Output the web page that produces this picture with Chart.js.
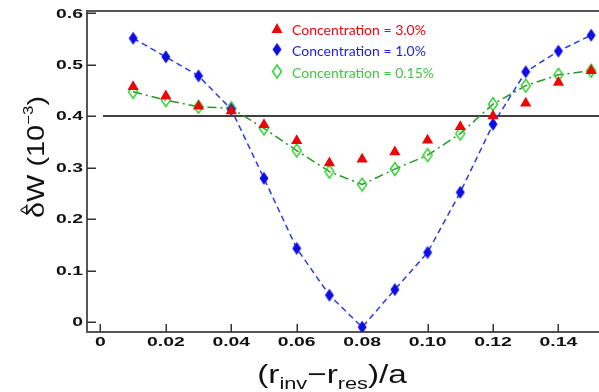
<!DOCTYPE html>
<html>
<head>
<meta charset="utf-8">
<script src="https://cdn.jsdelivr.net/npm/chart.js@4.4.1/dist/chart.umd.min.js"></script>
<style>
  html, body { margin: 0; padding: 0; background: #fff; }
  #myChart { display: block; }
</style>
</head>
<body>
<canvas id="myChart" width="599" height="392"></canvas>
<script>
// values
const xVals = [0.01, 0.02, 0.03, 0.04, 0.05, 0.06, 0.07, 0.08, 0.09, 0.10, 0.11, 0.12, 0.13, 0.14, 0.15]
const conc30 = [0.457, 0.439, 0.419, 0.410, 0.383, 0.352, 0.309, 0.316, 0.330, 0.353, 0.379, 0.400, 0.425, 0.465, 0.488]
const conc10 = [0.551, 0.515, 0.478, 0.413, 0.279, 0.143, 0.052, -0.010, 0.063, 0.135, 0.252, 0.384, 0.486, 0.526, 0.557]
const conc015 = [0.447, 0.431, 0.418, 0.415, 0.376, 0.333, 0.292, 0.267, 0.297, 0.324, 0.366, 0.423, 0.459, 0.480, 0.488]
const refLevel = 0.4
const refLineX = [0.0008, 0.16]

const xTicks = [0, 0.02, 0.04, 0.06, 0.08, 0.10, 0.12, 0.14]
const xTickLabels = ['0', '0.02', '0.04', '0.06', '0.08', '0.10', '0.12', '0.14']
const yTicks = [0, 0.1, 0.2, 0.3, 0.4, 0.5, 0.6]
const yTickLabels = ['0', '0.1', '0.2', '0.3', '0.4', '0.5', '0.6']

const legendLabels = ['Concentration = 3.0%', 'Concentration = 1.0%', 'Concentration = 0.15%']

const RED = 'rgb(236,6,6)'
const BLUE = 'rgb(14,14,226)'
const GREEN = 'rgb(46,206,46)'
const GREEN_LINE = 'rgb(40,150,40)'
const BLUE_LINE = 'rgb(40,60,225)'

const pts = (ys) => xVals.map((x, i) => ({ x: x, y: ys[i] }))

// elongated diamond markers
const diamond = (w, h, fill, stroke) => {
    const c = document.createElement('canvas')
    c.width = w + 3
    c.height = h + 3
    const g = c.getContext('2d')
    const cx = c.width / 2, cy = c.height / 2
    g.beginPath()
    g.moveTo(cx, cy - h / 2)
    g.lineTo(cx + w / 2, cy)
    g.lineTo(cx, cy + h / 2)
    g.lineTo(cx - w / 2, cy)
    g.closePath()
    if (fill) { g.fillStyle = fill; g.fill() }
    if (stroke) { g.strokeStyle = stroke; g.lineWidth = 1.5; g.stroke() }
    return c
}
const blueDiamond = diamond(9, 13, BLUE, null)
const greenDiamond = diamond(9, 13, null, GREEN)

const stretchText = (ctx, text, x, y, sx, align) => {
    ctx.save()
    ctx.translate(x, y)
    ctx.scale(sx, 1)
    ctx.textAlign = align
    ctx.fillText(text, 0, 0)
    ctx.restore()
}

const framePlugin = {
    id: 'frame',
    beforeDatasetsDraw(chart) {
        const ctx = chart.ctx
        const a = chart.chartArea
        const xs = chart.scales.x, ys = chart.scales.y
        ctx.save()
        ctx.strokeStyle = '#555'
        ctx.lineWidth = 2
        ctx.beginPath()
        ctx.moveTo(599, a.top)
        ctx.lineTo(a.left, a.top)
        ctx.lineTo(a.left, a.bottom)
        ctx.lineTo(599, a.bottom)
        ctx.stroke()
        ctx.lineWidth = 1.5
        ctx.strokeStyle = '#333'
        ctx.beginPath()
        yTicks.forEach(v => {
            const py = Math.round(ys.getPixelForValue(v)) + 0.25
            ctx.moveTo(a.left, py)
            ctx.lineTo(a.left + 9, py)
        })
        xTicks.forEach(v => {
            const px = Math.round(xs.getPixelForValue(v)) + 0.25
            ctx.moveTo(px, a.bottom)
            ctx.lineTo(px, a.bottom - 8)
        })
        ctx.stroke()

        // tick labels
        ctx.fillStyle = '#111'
        ctx.font = 'bold 12.5px "Liberation Sans", Arial, sans-serif'
        ctx.textBaseline = 'middle'
        yTicks.forEach((v, i) => {
            stretchText(ctx, yTickLabels[i], a.left - 4, ys.getPixelForValue(v) + 1, 1.55, 'right')
        })
        xTicks.forEach((v, i) => {
            stretchText(ctx, xTickLabels[i], xs.getPixelForValue(v), 343, 1.55, 'center')
        })
        ctx.restore()
    },
    afterDraw(chart) {
        const ctx = chart.ctx
        ctx.save()
        ctx.fillStyle = '#111'
        ctx.textBaseline = 'alphabetic'

        // x axis title: (r_inv - r_res)/a
        const big = '26px "Liberation Sans", Arial, sans-serif'
        const small = '17px "Liberation Sans", Arial, sans-serif'
        const parts = [['(r', big, 0], ['inv', small, 6], ['\u2212r', big, 0], ['res', small, 6], [')/a', big, 0]]
        let total = 0
        parts.forEach(p => { ctx.font = p[1]; total += ctx.measureText(p[0]).width })
        const sx = 1.28
        ctx.save()
        ctx.translate(332 - total * sx / 2, 383)
        ctx.scale(sx, 1)
        ctx.textAlign = 'left'
        let cx = 0
        parts.forEach(p => {
            ctx.font = p[1]
            ctx.fillText(p[0], cx, p[2])
            cx += ctx.measureText(p[0]).width
        })
        ctx.restore()

        // y axis title: delta-hat W (10^-3)
        const yBig = '24px "Liberation Sans", Arial, sans-serif'
        const ySmall = '14px "Liberation Sans", Arial, sans-serif'
        const yParts = [['\u03B4W (10', yBig, 0], ['\u22123', ySmall, -11], [')', yBig, 0]]
        let ytotal = 0
        yParts.forEach(p => { ctx.font = p[1]; ytotal += ctx.measureText(p[0]).width })
        const ysx = 122 / ytotal
        ctx.save()
        ctx.translate(44, 157)
        ctx.rotate(-Math.PI / 2)
        ctx.scale(ysx, 1)
        let cy = -ytotal / 2
        ctx.font = yBig
        const deltaW = ctx.measureText('\u03B4').width
        ctx.font = '15px "Liberation Sans", Arial, sans-serif'
        ctx.textAlign = 'center'
        ctx.fillText('^', cy + deltaW / 2, -13)
        ctx.textAlign = 'left'
        yParts.forEach(p => {
            ctx.font = p[1]
            ctx.fillText(p[0], cy, p[2])
            cy += ctx.measureText(p[0]).width
        })
        ctx.restore()

        // legend
        const rows = [28.5, 49.5, 71.5]
        const colors = [RED, 'rgb(30,30,210)', 'rgb(70,195,70)']
        ctx.font = '14px Lato, "Open Sans", sans-serif'
        ctx.textBaseline = 'middle'
        ctx.textAlign = 'left'
        legendLabels.forEach((t, i) => {
            ctx.fillStyle = colors[i]
            ctx.fillText(t, 292, rows[i] + 1.5)
        })
        ctx.fillStyle = RED
        ctx.beginPath()
        ctx.moveTo(277, rows[0] - 5.5)
        ctx.lineTo(282.5, rows[0] + 4.5)
        ctx.lineTo(271.5, rows[0] + 4.5)
        ctx.closePath()
        ctx.fill()
        ctx.drawImage(blueDiamond, 277 - blueDiamond.width / 2, rows[1] - blueDiamond.height / 2)
        ctx.drawImage(greenDiamond, 277 - greenDiamond.width / 2, rows[2] - greenDiamond.height / 2)
        ctx.restore()
    }
}

const data = {
    datasets: [{
        label: legendLabels[0],
        data: pts(conc30),
        showLine: false,
        pointStyle: 'triangle',
        pointRadius: 6.5,
        backgroundColor: RED,
        borderColor: RED,
        borderWidth: 0,
    }, {
        label: legendLabels[1],
        data: pts(conc10),
        showLine: true,
        borderColor: BLUE_LINE,
        borderWidth: 1.5,
        borderDash: [6, 4],
        pointStyle: blueDiamond,
        pointRadius: 6,
    }, {
        label: legendLabels[2],
        data: pts(conc015),
        showLine: true,
        borderColor: GREEN_LINE,
        borderWidth: 1.5,
        borderDash: [9, 4, 2, 4],
        pointStyle: greenDiamond,
        pointRadius: 6,
    }, {
        label: 'ref',
        data: refLineX.map(x => ({ x: x, y: refLevel })),
        showLine: true,
        borderColor: '#000',
        borderWidth: 1.5,
        pointRadius: 0,
    }]
}

const config = {
    type: 'scatter',
    data: data,
    options: {
        responsive: false,
        animation: false,
        events: [],
        layout: { autoPadding: false, padding: { left: 87, top: 11, right: 0, bottom: 60 } },
        scales: {
            x: { type: 'linear', min: -0.0041, max: 0.1524, display: false },
            y: { type: 'linear', min: -0.0194, max: 0.604, display: false }
        },
        plugins: {
            legend: { display: false },
            tooltip: { enabled: false }
        }
    },
    plugins: [framePlugin]
}

var myChart = new Chart(document.getElementById('myChart'), config)
</script>
</body>
</html>
